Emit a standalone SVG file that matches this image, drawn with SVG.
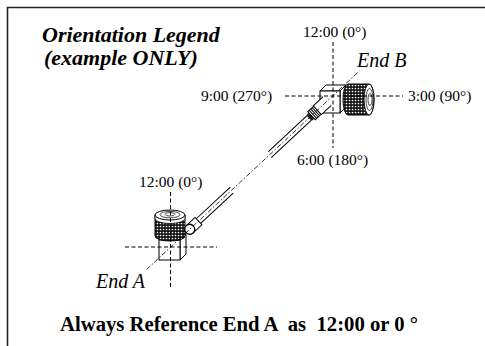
<svg xmlns="http://www.w3.org/2000/svg" width="485" height="346" viewBox="0 0 485 346">
<defs>
<pattern id="knurl" width="3" height="3" patternUnits="userSpaceOnUse">
<rect width="3" height="3" fill="#111"/>
<circle cx="1.5" cy="1.5" r="0.85" fill="#fff"/>
</pattern>
<style>
.t{font-family:"Liberation Serif","Times New Roman",serif;fill:#000}
.lbl{font-size:15.5px}
.end{font-size:20px;font-style:italic}
.ttl{font-size:22px;font-style:italic;font-weight:bold}
.note{font-size:20.7px;font-weight:bold;white-space:pre}
.axis{stroke:#000;stroke-width:1;stroke-dasharray:4 2.5;fill:none}
.cl{stroke:#000;stroke-width:0.8;stroke-dasharray:5 2 1.5 2;fill:none}
.ln{stroke:#000;stroke-width:1;fill:#fff}
.edge{stroke:#000;stroke-width:1;fill:none}
.thin{stroke:#000;stroke-width:0.7;fill:none}
</style>
</defs>
<rect width="485" height="346" fill="#fff"/>
<path id="frame" d="M7.5,346 V7.5 H485" fill="none" stroke="#222" stroke-width="1.6"/>

<g id="labels">
<text class="t ttl" x="42" y="42">Orientation Legend</text>
<text class="t ttl" x="44" y="65">(example ONLY)</text>
<text class="t lbl" x="303" y="37">12:00 (0°)</text>
<text class="t lbl" x="201" y="101">9:00 (270°)</text>
<text class="t lbl" x="408" y="101">3:00 (90°)</text>
<text class="t lbl" x="297" y="164.5">6:00 (180°)</text>
<text class="t lbl" x="139" y="187">12:00 (0°)</text>
<text class="t note" x="60" y="331" xml:space="preserve">Always Reference End A  as  12:00 or 0 °</text>
</g>

<g id="connectors">
<g id="cable" transform="translate(170.7,247) rotate(-43)">
<rect x="38" y="-3.2" width="46" height="6.4" fill="#fff"/>
<path class="edge" d="M38,-3.2 H84.5 M38,3.2 H82.5"/>
<rect x="135" y="-3.2" width="54" height="6.4" fill="#fff"/>
<path class="edge" d="M136.5,-3.2 H189 M134.5,3.2 H189"/>
</g>
</g>

<g id="endA">
<polygon class="ln" points="180,240 186,234 186,254 180,260"/>
<polygon class="ln" points="159,240 165,234 186,234 180,240"/>
<rect class="ln" x="159" y="240" width="21" height="20"/>
<path d="M155,215 V236 A15 5 0 0 0 185,236 V215 Z" fill="url(#knurl)" stroke="#000" stroke-width="1"/>
<path d="M155,215 V218.5 A15 5 0 0 0 185,218.5 V215 Z" fill="#fff" stroke="#000" stroke-width="0.8"/>
<ellipse class="ln" cx="170" cy="215" rx="15" ry="5"/>
<ellipse class="thin" cx="170" cy="214.6" rx="10" ry="3.2"/>
<ellipse class="thin" cx="170" cy="214.3" rx="5" ry="1.7"/>
<g transform="translate(170.7,247) rotate(-43)">
<rect x="26" y="-5" width="12" height="10" fill="#fff"/>
<path class="edge" d="M26,-5 H38 V5 H26"/>
<circle cx="26" cy="0" r="5" fill="#fff" stroke="#000" stroke-width="1.3"/>
</g>
<text class="t end" x="96" y="288">End A</text>
</g>

<g id="endB">
<polygon class="ln" points="340,91 346,85 346,107 340,113"/>
<polygon class="ln" points="320,91 326,85 346,85 340,91"/>
<rect class="ln" x="320" y="91" width="20" height="22"/>
<path d="M348,84 H369 A5 15.5 0 0 1 369,115 H348 A5 15.5 0 0 1 348,84 Z" fill="url(#knurl)" stroke="#000" stroke-width="1"/>
<ellipse class="ln" cx="369" cy="99.5" rx="5" ry="15.5"/>
<ellipse class="thin" cx="369.5" cy="99.5" rx="3.5" ry="11"/>
<ellipse class="thin" cx="370" cy="99.5" rx="2" ry="6"/>
<g transform="translate(170.7,247) rotate(-43)">
<rect x="189" y="-4" width="3.5" height="8" fill="#222"/>
<rect class="ln" x="192.5" y="-5.5" width="8" height="11"/>
<path class="edge" d="M194.5,-5.5 V5.5 M196.5,-5.5 V5.5 M198.5,-5.5 V5.5"/>
<rect x="200.5" y="-6" width="13.5" height="12" fill="#fff"/>
<path class="edge" d="M214,-6 H200.5 V6 H214"/>
</g>
<text class="t end" x="357" y="67">End B</text>
</g>

<g id="axes">
<path class="axis" d="M125,247 H217 M170.5,192 V289"/>
<path class="axis" d="M285,96 H403 M333,42 V148"/>
<line class="cl" x1="146.6" y1="269.5" x2="359.4" y2="71"/>
</g>
</svg>
